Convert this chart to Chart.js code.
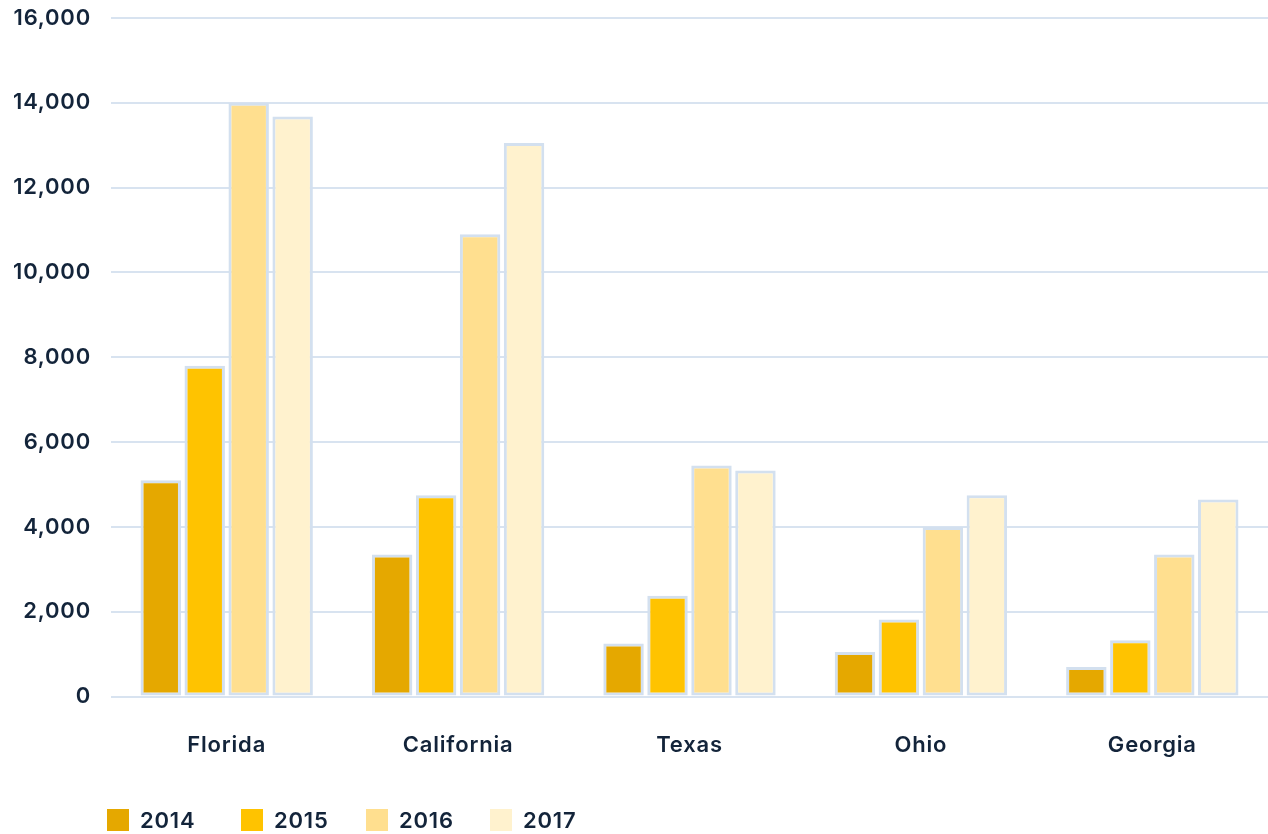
<!DOCTYPE html>
<html>
<head>
<meta charset="utf-8">
<script src="https://cdn.jsdelivr.net/npm/chart.js@4/dist/chart.umd.min.js"></script>
<style>
  html, body { margin: 0; padding: 0; background: #fff; }
  #wrap { position: relative; width: 1268px; height: 834px; }
  #legend { position: absolute; left: 107px; top: 807px; width: 600px; height: 26px; font-family: Inter, "Open Sans", sans-serif; font-size: 22px; font-weight: 600; letter-spacing: 0.8px; color: #13243a; }
  .item { position: absolute; top: 0; display: flex; align-items: center; white-space: nowrap; }
  .box { width: 22px; height: 22px; margin-right: 11px; }
</style>
</head>
<body>
<div id="wrap">
  <canvas id="c" width="1268" height="834"></canvas>
  <div id="legend"></div>
</div>
<script>
const categories = ["Florida", "California", "Texas", "Ohio", "Georgia"];
const seriesNames = ["2014", "2015", "2016", "2017"];
const values2014 = [5100, 3350, 1250, 1050, 700];
const values2015 = [7800, 4750, 2380, 1820, 1330];
const values2016 = [14000, 10900, 5450, 4000, 3350];
const values2017 = [13680, 13050, 5330, 4750, 4650];
const yTicks = [0, 2000, 4000, 6000, 8000, 10000, 12000, 14000, 16000];
const colors = ["#E5A800", "#FFC300", "#FFDF8F", "#FFF2CE"];
const allValues = [values2014, values2015, values2016, values2017];

const textColor = "#13243a";
const gridColor = "#d8e3f0";
const tickFont = { family: "Inter", size: 22, weight: 600 };

const datasets = seriesNames.map((name, i) => ({
  label: name,
  data: allValues[i],
  backgroundColor: colors[i],
  borderColor: "#d3e0ef",
  borderWidth: 3,
  borderSkipped: false,
  barPercentage: 0.92,
  categoryPercentage: 0.76
}));

const spacingPlugin = {
  id: "spacing",
  beforeDraw(chart) { chart.ctx.letterSpacing = "0.8px"; }
};

new Chart(document.getElementById("c"), {
  type: "bar",
  data: { labels: categories, datasets },
  plugins: [spacingPlugin],
  options: {
    responsive: false,
    animation: false,
    layout: { padding: { top: 18, right: 0, bottom: 39, left: 0 } },
    plugins: { legend: { display: false }, tooltip: { enabled: false } },
    scales: {
      x: {
        grid: { display: false, drawTicks: false },
        border: { display: false },
        ticks: { color: textColor, padding: 36, font: tickFont }
      },
      y: {
        min: 0, max: 16000,
        afterFit: s => { s.width = 111; s.paddingTop = 0; s.paddingBottom = 0; },
        afterBuildTicks: s => { s.ticks = yTicks.map(v => ({ value: v })); },
        grid: { color: gridColor, lineWidth: 2, drawTicks: false },
        border: { display: false },
        ticks: {
          color: textColor, padding: 20, font: tickFont,
          callback: v => v.toLocaleString("en-US")
        }
      }
    }
  }
});

const legendOffsets = [0, 134, 259, 383];
const lg = document.getElementById("legend");
seriesNames.forEach((name, i) => {
  const it = document.createElement("div");
  it.className = "item";
  it.style.left = legendOffsets[i] + "px";
  const b = document.createElement("div");
  b.className = "box";
  b.style.background = colors[i];
  const t = document.createElement("span");
  t.textContent = name;
  it.appendChild(b); it.appendChild(t);
  lg.appendChild(it);
});
</script>
</body>
</html>
